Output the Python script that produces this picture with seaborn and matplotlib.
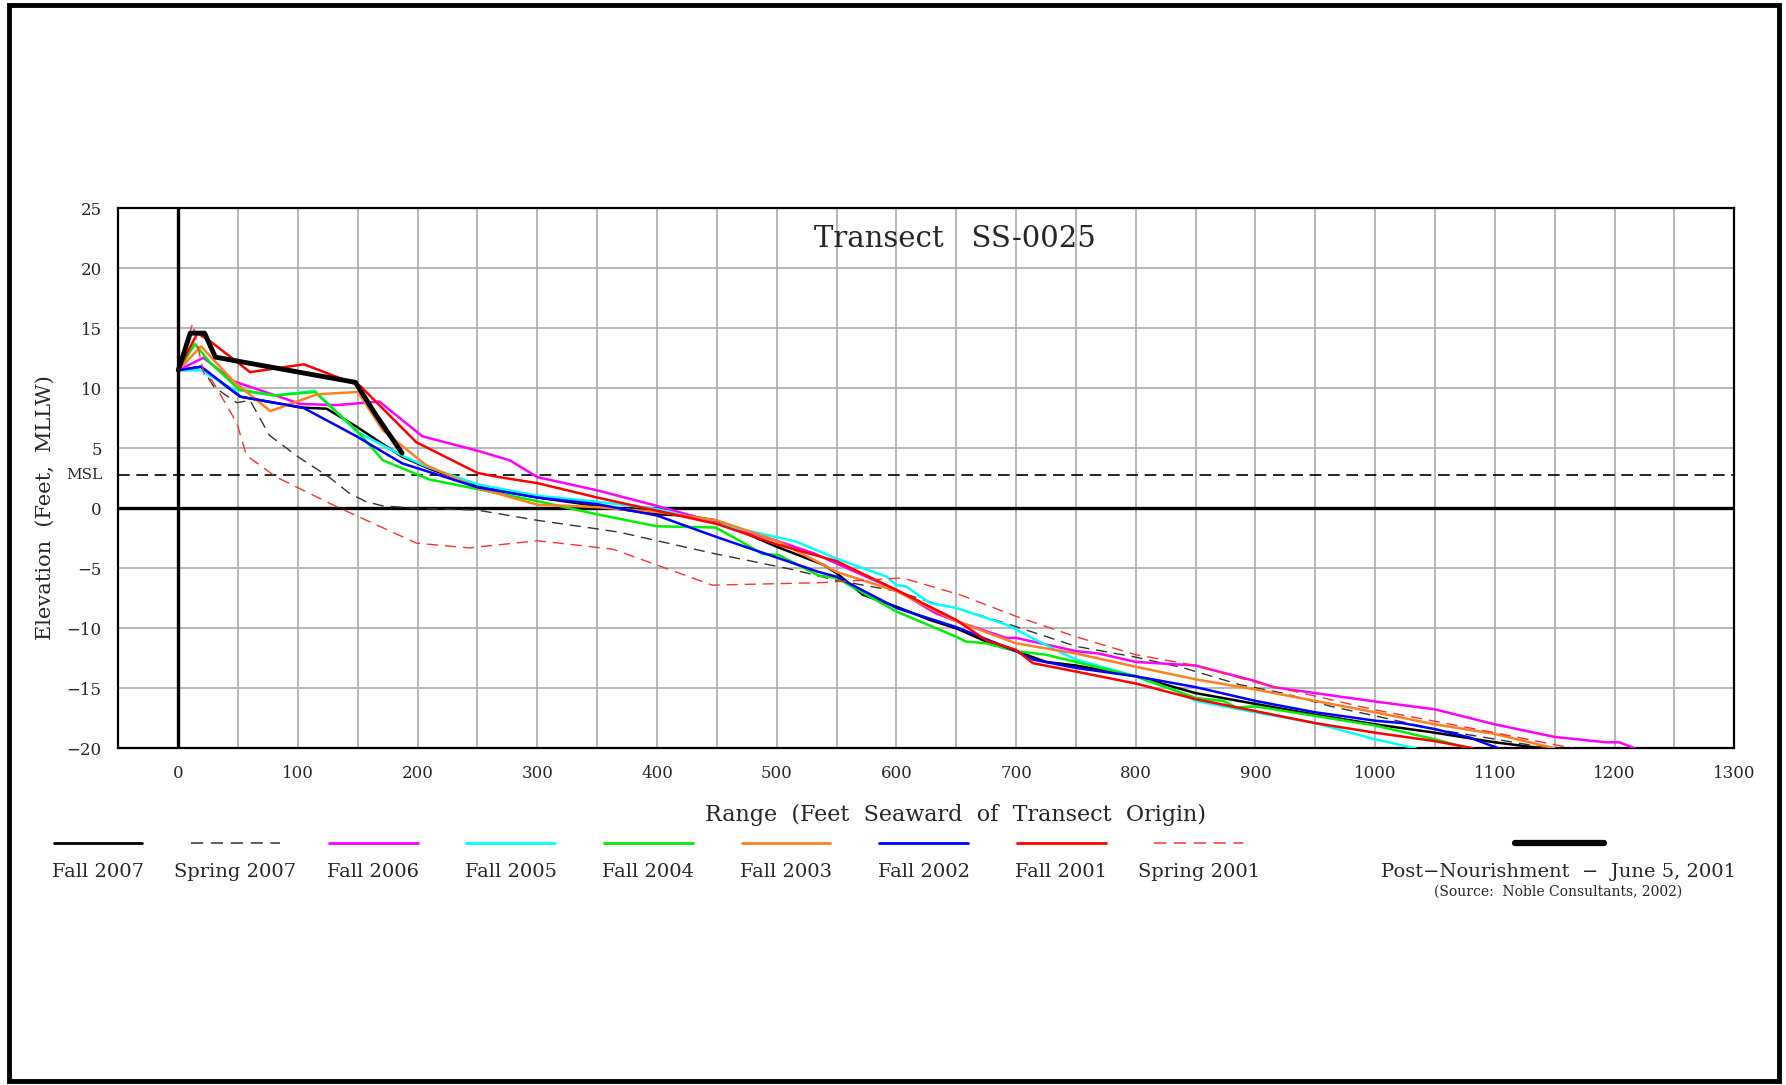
import numpy as np
import pandas as pd
import matplotlib
matplotlib.use("Agg")
import matplotlib.pyplot as plt
import seaborn as sns
from matplotlib.lines import Line2D
from matplotlib.patches import Rectangle
from matplotlib.ticker import MultipleLocator

# ---------------- data ----------------
title = "Transect   SS-0025"

pn_x = [0, 10, 22, 31, 148, 165, 187]
pn_y = [11.5, 14.6, 14.6, 12.6, 10.5, 7.8, 4.6]

f07_x = [0, 19, 33, 52, 102, 124, 149, 187, 210, 250, 300, 350, 400, 424, 449, 500, 539, 550, 572, 600, 628, 650, 675, 700, 725, 750, 800, 850, 900, 950, 1000, 1050, 1100, 1140]
f07_y = [11.5, 11.8, 10.7, 9.3, 8.4, 8.3, 6.8, 4.3, 3.3, 1.85, 0.9, 0.2, -0.5, -0.6, -1.0, -3.2, -4.7, -5.4, -7.2, -8.2, -9.3, -10.0, -11.1, -11.9, -12.8, -13.1, -14.0, -15.4, -16.3, -17.2, -18.0, -18.7, -19.5, -20.0]

s07_x = [0, 19, 30, 49, 60, 76, 100, 126, 143, 157, 171, 199, 250, 300, 349, 369, 400, 449, 469, 513, 550, 600, 631, 650, 692, 750, 800, 840, 887, 923, 963, 1000, 1050, 1146]
s07_y = [11.5, 11.8, 10.1, 8.8, 9.0, 6.1, 4.3, 2.6, 1.25, 0.55, 0.2, 0.0, -0.15, -1.0, -1.7, -2.0, -2.7, -3.8, -4.2, -5.1, -6.0, -6.9, -7.9, -8.3, -9.6, -11.5, -12.4, -13.3, -14.7, -15.4, -16.5, -17.3, -18.4, -20.0]

f06_x = [0, 21, 46, 102, 132, 168, 204, 250, 277, 300, 350, 400, 450, 500, 531, 550, 600, 633, 650, 692, 700, 750, 769, 800, 850, 900, 915, 950, 1000, 1050, 1100, 1150, 1193, 1204, 1217]
f06_y = [11.5, 12.55, 10.6, 8.7, 8.6, 8.9, 6.0, 4.8, 4.0, 2.6, 1.5, 0.2, -1.2, -2.7, -3.75, -4.6, -6.8, -8.75, -9.4, -10.8, -10.8, -11.9, -12.1, -12.8, -13.1, -14.4, -14.9, -15.4, -16.1, -16.75, -18.0, -19.05, -19.5, -19.5, -20.0]

f05_x = [0, 19, 24, 46, 80, 114, 149, 187, 207, 250, 300, 350, 400, 450, 500, 517, 550, 592, 600, 608, 628, 650, 692, 700, 733, 750, 800, 836, 850, 900, 950, 1000, 1034]
f05_y = [11.5, 11.5, 11.2, 9.9, 9.4, 9.8, 6.4, 4.4, 3.5, 2.0, 1.05, 0.55, -0.05, -1.3, -2.4, -2.8, -4.2, -5.7, -6.4, -6.5, -7.9, -8.3, -9.7, -10.1, -11.8, -12.6, -14.0, -15.3, -16.05, -17.0, -17.9, -19.25, -20.0]

f04_x = [0, 14, 26, 51, 80, 114, 149, 171, 210, 250, 300, 350, 400, 449, 469, 488, 502, 535, 550, 600, 650, 658, 675, 700, 725, 750, 800, 850, 873, 884, 900, 950, 1000, 1050, 1079]
f04_y = [11.5, 13.7, 12.2, 9.9, 9.4, 9.7, 6.5, 4.0, 2.4, 1.6, 0.6, -0.5, -1.5, -1.6, -2.7, -3.8, -3.9, -5.6, -5.8, -8.6, -10.7, -11.1, -11.25, -11.9, -12.2, -12.8, -14.0, -15.8, -16.05, -16.6, -16.5, -17.3, -18.1, -19.25, -20.0]

f03_x = [0, 19, 46, 77, 116, 150, 171, 207, 250, 300, 350, 400, 450, 500, 535, 550, 600, 650, 700, 750, 800, 850, 900, 950, 1000, 1050, 1100, 1150]
f03_y = [11.5, 13.5, 10.6, 8.1, 9.5, 9.7, 6.5, 3.6, 1.7, 0.3, 0.1, -0.3, -1.0, -2.7, -4.5, -5.3, -6.9, -9.4, -11.25, -12.1, -13.2, -14.25, -15.1, -16.05, -17.0, -18.0, -18.8, -20.0]

f02_x = [0, 19, 52, 104, 149, 187, 250, 300, 350, 400, 450, 500, 535, 550, 600, 650, 700, 714, 750, 800, 850, 900, 950, 979, 1000, 1023, 1050, 1079, 1103]
f02_y = [11.5, 11.8, 9.3, 8.4, 6.0, 3.75, 1.75, 0.9, 0.35, -0.6, -2.4, -4.1, -5.3, -5.7, -8.3, -9.9, -11.9, -12.6, -13.3, -14.0, -14.9, -16.05, -17.0, -17.4, -17.7, -17.9, -18.4, -19.1, -20.0]

f01_x = [0, 16, 27, 60, 105, 152, 199, 250, 268, 300, 350, 400, 450, 500, 550, 600, 650, 675, 700, 714, 750, 800, 850, 900, 950, 1000, 1050, 1082]
f01_y = [11.5, 14.6, 13.9, 11.35, 12.0, 10.2, 5.5, 2.95, 2.6, 2.1, 0.9, -0.2, -1.3, -3.0, -4.4, -6.8, -9.3, -11.0, -11.8, -12.9, -13.6, -14.6, -15.9, -16.9, -17.9, -18.7, -19.4, -20.0]

s01_x = [0, 12, 22, 28, 49, 57, 82, 132, 199, 243, 300, 363, 402, 446, 535, 605, 653, 700, 750, 800, 850, 900, 1000, 1100, 1165]
s01_y = [11.5, 15.4, 11.0, 10.7, 7.1, 4.4, 2.6, 0.15, -2.9, -3.3, -2.7, -3.4, -4.8, -6.4, -6.2, -5.8, -7.2, -9.0, -10.7, -12.2, -13.1, -14.5, -16.8, -18.7, -20.0]

msl = 2.8
x_ticks = list(range(0, 1301, 100))
y_ticks = list(range(-20, 26, 5))

# series: (label, x, y, color, lw, dashes)
series = [
    ("Fall 2007", f07_x, f07_y, "#000000", 1.8, None),
    ("Spring 2007", s07_x, s07_y, "#333333", 1.0, (8, 5)),
    ("Fall 2006", f06_x, f06_y, "#ff00ff", 1.8, None),
    ("Fall 2005", f05_x, f05_y, "#00ffff", 1.8, None),
    ("Fall 2004", f04_x, f04_y, "#00ee00", 1.8, None),
    ("Fall 2003", f03_x, f03_y, "#ff8020", 1.8, None),
    ("Fall 2002", f02_x, f02_y, "#0000ff", 1.8, None),
    ("Fall 2001", f01_x, f01_y, "#ff0000", 1.8, None),
    ("Spring 2001", s01_x, s01_y, "#ff3030", 1.0, (8, 5)),
]

# ---------------- plot ----------------
sns.set_theme(style="white")
plt.rcParams["font.family"] = ["DejaVu Serif"]
plt.rcParams["axes.unicode_minus"] = True

fig = plt.figure(figsize=(17.86, 10.85), dpi=100)
ax = fig.add_axes([0.0663, 0.3103, 0.9047, 0.4977])

ax.set_xlim(-50, 1300)
ax.set_ylim(-20, 25)
ax.xaxis.set_major_locator(MultipleLocator(100))
ax.xaxis.set_minor_locator(MultipleLocator(50))
ax.yaxis.set_major_locator(MultipleLocator(5))
ax.grid(True, which="both", axis="x", color="#aaaaaa", lw=1.2)
ax.grid(True, which="major", axis="y", color="#aaaaaa", lw=1.2)
ax.set_axisbelow(True)

ax.axhline(0, color="black", lw=2.4, zorder=2)
ax.axvline(0, color="black", lw=2.4, zorder=2)
ax.axhline(msl, color="black", lw=1.2, dashes=(7, 4), zorder=2)

for label, xs, ys, col, lw, dash in series:
    df = pd.DataFrame({"x": xs, "y": ys})
    kw = dict(data=df, x="x", y="y", ax=ax, color=col, lw=lw, sort=False,
              estimator=None, legend=False, zorder=3)
    if dash is not None:
        sns.lineplot(dashes=dash, **kw)
    else:
        sns.lineplot(**kw)

dfp = pd.DataFrame({"x": pn_x, "y": pn_y})
sns.lineplot(data=dfp, x="x", y="y", ax=ax, color="black", lw=3.5, sort=False,
             estimator=None, legend=False, zorder=4)

ax.set_xticks(x_ticks)
ax.set_yticks(y_ticks)
ax.set_xticklabels([str(v) for v in x_ticks], fontsize=12)
ax.set_yticklabels([str(v).replace("-", "\u2212") for v in y_ticks], fontsize=12)
ax.tick_params(axis="x", which="both", length=0, pad=12)
ax.tick_params(axis="y", which="both", length=0, pad=12)
for s in ax.spines.values():
    s.set_color("black")
    s.set_linewidth(1.6)

ax.set_xlabel("")
ax.set_ylabel("")
ax.text(0.5176, 0.943, title, transform=ax.transAxes, ha="center", va="center", fontsize=21)
ax.text(-0.01, msl, "MSL", transform=ax.get_yaxis_transform(), ha="right", va="center", fontsize=11)

fig.text(0.535, 0.2487, "Range  (Feet  Seaward  of  Transect  Origin)", ha="center", va="center", fontsize=16)
fig.text(0.0255, 0.532, "Elevation  (Feet,  MLLW)", ha="center", va="center", rotation=90, fontsize=15)

# legend
leg_y_line = 0.2235
leg_y_text = 0.196
x0 = 47 / 1568
step = 120.8 / 1568
seg = 78 / 1568
for i, (label, xs, ys, col, lw, dash) in enumerate(series):
    xa = x0 + i * step
    ln = Line2D([xa, xa + seg], [leg_y_line, leg_y_line], transform=fig.transFigure,
                color=col, lw=2.0 if dash is None else 1.1)
    if dash is not None:
        ln.set_dashes(dash)
    fig.add_artist(ln)
    fig.text(xa + seg / 2, leg_y_text, label, ha="center", va="center", fontsize=14)

fig.add_artist(Line2D([1330 / 1568, 1408 / 1568], [leg_y_line, leg_y_line],
                      transform=fig.transFigure, color="black", lw=4.5))
fig.text(1368 / 1568, leg_y_text, "Post\u2212Nourishment  \u2212  June 5, 2001", ha="center", va="center", fontsize=14)
fig.text(1368 / 1568, 0.178, "(Source:  Noble Consultants, 2002)", ha="center", va="center", fontsize=10)

# outer frame
fig.add_artist(Rectangle((0.005, 0.004), 0.991, 0.991, transform=fig.transFigure,
                         fill=False, edgecolor="black", lw=3.5))

fig.savefig("out.png", dpi=100)
